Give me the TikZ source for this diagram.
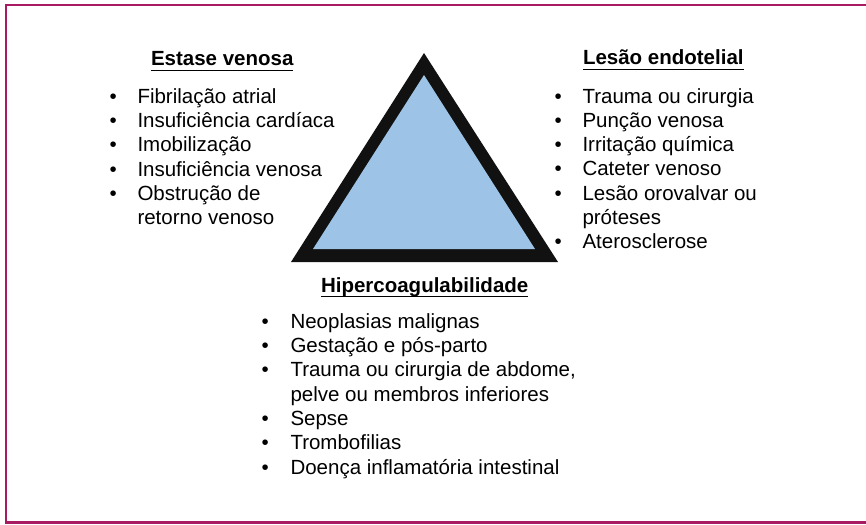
\documentclass[tikz,border=0pt]{standalone}
\usepackage{fontspec}
\setmainfont{Liberation Sans}
\definecolor{framecol}{HTML}{A81A62}
\definecolor{tribluefill}{HTML}{9DC3E6}
\definecolor{tridark}{HTML}{111111}
\begin{document}
\begin{tikzpicture}[x=1pt,y=-1pt,
  txt/.style={anchor=base west,inner sep=0pt,outer sep=0pt,font=\fontsize{20.5}{24.4}\selectfont,text=black},
  head/.style={txt,font=\fontsize{20.5}{24.4}\selectfont\bfseries},
  uline/.style={line width=1.5pt,black},
  bul/.style={txt}]
\useasboundingbox (0,0) rectangle (866,524);
% frame
\begin{scope}
\clip (0,0) rectangle (866,524);
\draw[framecol,line width=2.4pt] (6,5) rectangle (880,522.5);
\end{scope}
% triangle
\fill[tridark] (424,53) -- (291,262) -- (558,262) -- cycle;
\fill[tribluefill] (424,75) -- (313,249) -- (535,249) -- cycle;
% headings
\node[head] (hl) at (151,66) {Estase venosa};
\draw[uline] ([yshift=-4.5pt]hl.base west) -- ([yshift=-4.5pt]hl.base east);
\node[head] (hr) at (583,65) {Lesão endotelial};
\draw[uline] ([yshift=-4.5pt]hr.base west) -- ([yshift=-4.5pt]hr.base east);
\node[head] (hb) at (321,292) {Hipercoagulabilidade};
\draw[uline] ([yshift=-4.5pt]hb.base west) -- ([yshift=-4.5pt]hb.base east);
% left list
\foreach \t/\y/\b [count=\i] in {Fibrilação atrial/103.3/1,Insuficiência cardíaca/127.6/1,Imobilização/151.9/1,Insuficiência venosa/176.2/1,Obstrução de/200.5/1,retorno venoso/224.8/0}{
  \ifnum\b=1 \node[bul] (lb\i) at (109.5,\y) {•};\fi
  \node[txt] (l\i) at (137.5,\y) {\t};
}
% right list
\foreach \t/\y/\b [count=\i] in {Trauma ou cirurgia/103/1,Punção venosa/127.3/1,Irritação química/151.6/1,Cateter venoso/175.9/1,Lesão orovalvar ou/200.2/1,próteses/224.5/0,Aterosclerose/248.8/1}{
  \ifnum\b=1 \node[bul] (rb\i) at (554.5,\y) {•};\fi
  \node[txt] (r\i) at (582.5,\y) {\t};
}
% bottom list
\foreach \t/\y/\b [count=\i] in {Neoplasias malignas/328.3/1,Gestação e pós-parto/352.6/1,{Trauma ou cirurgia de abdome,}/376.9/1,pelve ou membros inferiores/401.2/0,Sepse/425.5/1,Trombofilias/449.8/1,Doença inflamatória intestinal/474.1/1}{
  \ifnum\b=1 \node[bul] (bb\i) at (261.5,\y) {•};\fi
  \node[txt] (b\i) at (290.5,\y) {\t};
}
\end{tikzpicture}
\end{document}
